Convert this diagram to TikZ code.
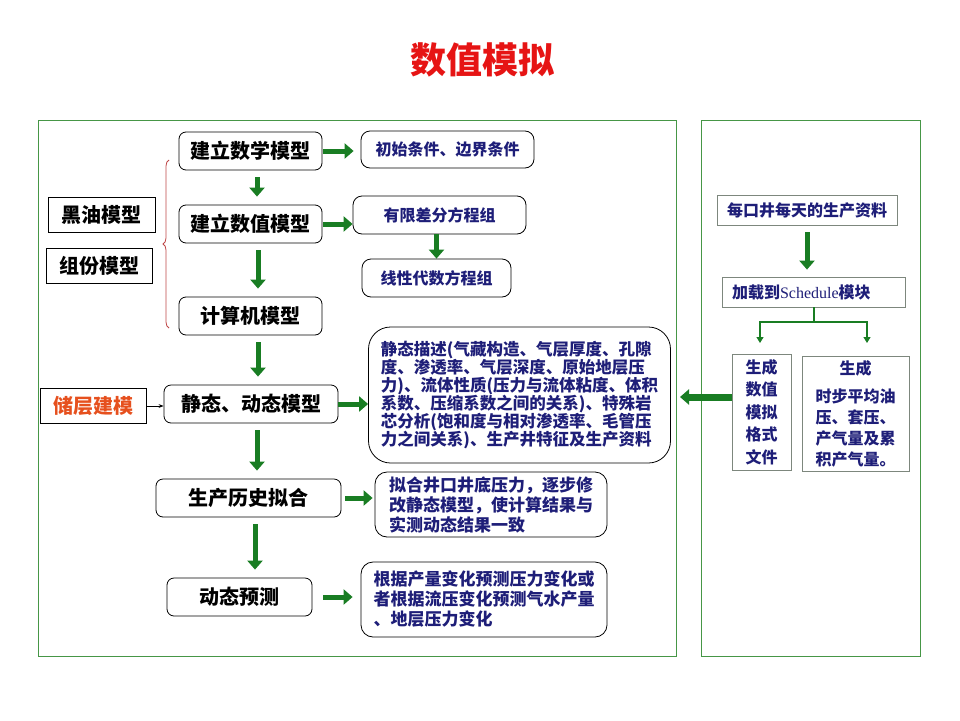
\documentclass[tikz,border=0pt]{standalone}
\usepackage{fontspec}
\setmainfont{Noto Sans CJK SC}
\newfontfamily\latinserif{Liberation Serif}
\usepackage{xcolor}
\usetikzlibrary{positioning,calc,arrows.meta,decorations.pathreplacing}

\definecolor{arrowgreen}{RGB}{25,125,35}
\definecolor{framegreen}{RGB}{70,150,70}
\definecolor{textnavy}{RGB}{30,30,120}
\definecolor{bracered}{RGB}{190,70,70}
\definecolor{titlered}{RGB}{230,20,20}
\definecolor{modelorange}{RGB}{230,80,30}
\definecolor{boxgray}{RGB}{125,135,125}

\begin{document}
\begin{tikzpicture}[x=1pt, y=-1pt,
    box/.style={draw, line width=0.8pt, rounded corners=7pt, minimum height=38pt,
        font=\fontsize{20}{24}\selectfont\bfseries},
    tag/.style={draw, line width=0.8pt, minimum height=35pt,
        font=\fontsize{20}{24}\selectfont\bfseries},
    note/.style={draw, line width=0.8pt, rounded corners=9pt, text=textnavy, align=left,
        font=\fontsize{16}{20}\selectfont\bfseries},
    plain/.style={draw=boxgray, line width=0.8pt, text=textnavy, minimum height=30pt,
        font=\fontsize{16}{20}\selectfont\bfseries},
    fat/.style={draw=arrowgreen, line width=5pt, -{Triangle[length=9pt,width=15pt]}},
    tree/.style={draw=arrowgreen, line width=1.2pt, -{Triangle[length=6pt,width=7pt]}},
    frame/.style={draw=framegreen, line width=0.9pt}
]
    \useasboundingbox (0,0) rectangle (960,720);

    % Title
    \node [font=\fontsize{36}{40}\selectfont\bfseries, text=titlered] (title) at (482,60) {数值模拟};

    % Frames
    \draw [frame] (38,120) rectangle (676,656);
    \draw [frame] (701,120) rectangle (920,656);

    % Main chain
    \node [box, minimum width=143pt] (math) at (250.5,151) {建立数学模型};
    \node [box, minimum width=143pt] (numer) at (250.5,224) {建立数值模型};
    \node [box, minimum width=143pt] (comp) at (250.5,316) {计算机模型};
    \node [box, minimum width=174pt] (stat) at (251,404) {静态、动态模型};
    \node [box, minimum width=185pt] (hist) at (248.5,498) {生产历史拟合};
    \node [box, minimum width=145pt] (pred) at (239.5,597) {动态预测};

    \foreach \a/\b/\s in {math/numer/6.5, numer/comp/7.5, comp/stat/7.5, stat/hist/6, hist/pred/6.5} {
        \draw [fat, shorten <=7pt, shorten >=8pt] ([xshift=\s pt]\a.south) -- ([xshift=\s pt]\a.south |- \b.north);
    }

    % Model types
    \node [tag, minimum width=107pt] (oil) at (101.5,214.5) {黑油模型};
    \node [tag, minimum width=106pt] (compo) at (99,266) {组份模型};
    \node [tag, minimum width=106pt, text=modelorange] (res) at (93,406) {储层建模};
    \draw [-{Stealth[length=5pt]}, line width=0.8pt] (res.east) -- (res.east -| stat.west);

    \coordinate (braceBot) at (169,328);
    \coordinate (braceTop) at (169,160);
    \draw [bracered, line width=0.8pt, decorate, decoration={brace, amplitude=6pt}] (braceBot) -- (braceTop);

    % Notes
    \node [note, minimum width=173pt, minimum height=37pt] (init) at (447.5,149.5) {初始条件、边界条件};
    \node [note, minimum width=173pt, minimum height=38pt] (fdm) at (439.5,215) {有限差分方程组};
    \node [note, minimum width=149pt, minimum height=38pt] (lin) at (436.5,278) {线性代数方程组};
    \node [note, rounded corners=22pt, minimum width=302pt, minimum height=136pt,
        font=\fontsize{16.5}{18}\selectfont\bfseries] (desc) at (519.5,395)
        {静态描述(气藏构造、气层厚度、孔隙\\度、渗透率、气层深度、原始地层压\\力)、流体性质(压力与流体粘度、体积\\系数、压缩系数之间的关系)、特殊岩\\芯分析(饱和度与相对渗透率、毛管压\\力之间关系)、生产井特征及生产资料};
    \node [note, rounded corners=12pt, minimum width=232pt, minimum height=65pt,
        font=\fontsize{17}{20}\selectfont\bfseries] (fit) at (491,504.5)
        {拟合井口井底压力，逐步修\\改静态模型，使计算结果与\\实测动态结果一致};
    \node [note, rounded corners=12pt, minimum width=246pt, minimum height=75pt,
        font=\fontsize{17}{20}\selectfont\bfseries] (fore) at (484,599.5)
        {根据产量变化预测压力变化或\\者根据流压变化预测气水产量\\、地层压力变化};

    \draw [fat, shorten <=1pt, shorten >=7pt] (math.east) -- (math.east -| init.west);
    \draw [fat, shorten <=1pt] (numer.east) -- (numer.east -| fdm.west);
    \draw [fat] ([xshift=-3pt]fdm.south) -- ([xshift=-3pt]fdm.south |- lin.north);
    \draw [fat] (stat.east) -- (stat.east -| desc.west);
    \draw [fat, shorten <=4pt, shorten >=2pt] (hist.east) -- (hist.east -| fit.west);
    \draw [fat, shorten <=11pt, shorten >=8pt] (pred.east) -- (pred.east -| fore.west);

    % Schedule side
    \node [plain, minimum width=180pt] (daily) at (807,210) {每口井每天的生产资料};
    \node [plain, text width=163pt, inner xsep=10pt, align=left] (sched) at (813.5,292)
        {加载到{\latinserif\mdseries Schedule}模块};
    \node [plain, minimum width=59pt, minimum height=116pt, align=center,
        font=\fontsize{16}{22.5}\selectfont\bfseries] (gen) at (761.5,412) {生成\\数值\\模拟\\格式\\文件};
    \node [plain, minimum width=107pt, minimum height=115pt, align=center,
        font=\fontsize{16}{21}\selectfont\bfseries] (avg) at (855.5,413.5)
        {生成\\[7pt]时步平均油\\压、套压、\\产气量及累\\积产气量。};

    \draw [fat, shorten <=7pt, shorten >=7pt] (daily.south) -- (daily.south |- sched.north);
    \coordinate (split) at (814,322);
    \coordinate (leftEnd) at (760,343);
    \coordinate (rightEnd) at (867,343);
    \draw [draw=arrowgreen, line width=1.2pt] (sched.south -| split) -- (split);
    \draw [tree] (split) -| (leftEnd);
    \draw [tree] (split) -| (rightEnd);

    \coordinate (genTip) at (680,397);
    \draw [fat, line width=7pt] (gen.west |- genTip) -- (genTip);
\end{tikzpicture}
\end{document}
